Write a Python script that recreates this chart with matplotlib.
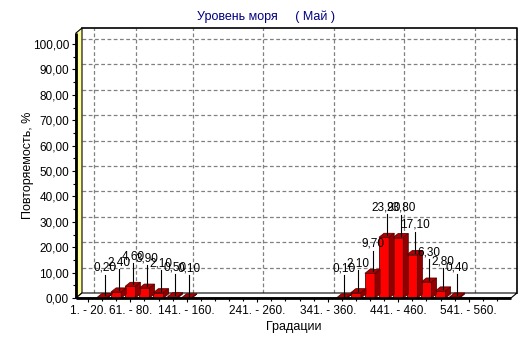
import numpy as np
import matplotlib
matplotlib.use("Agg")
import matplotlib.pyplot as plt
from matplotlib.patches import Polygon

plt.rcParams['font.family'] = ['Liberation Sans', 'DejaVu Sans']
plt.rcParams['font.size'] = 8.5

# gradations of 20 units: 1.-20., 21.-40., ... 581.-600.
categories = [f"{20*i+1}. - {20*i+20}." for i in range(30)]
values = [0, 0.20, 2.40, 4.60, 3.90, 2.10, 0.50, 0.10,
          0, 0, 0, 0, 0, 0, 0, 0, 0, 0,
          0.10, 2.10, 9.70, 23.90, 23.80, 17.10, 6.30, 2.80, 0.40,
          0, 0, 0]
tick_idx = [0, 3, 7, 12, 17, 22, 27]
title = "Уровень моря     ( Май )"

W, H = 532, 343
fig = plt.figure(figsize=(W/100, H/100), dpi=100)
# front plane of the 3d box, pixel coords
L, R, B, T = 76, 511, 298, 33
ax = fig.add_axes([L/W, 1-B/H, (R-L)/W, (B-T)/H])

px_x = 14.1   # pixels per category
px_y = 2.54   # pixels per percent
x0 = -(88-L)/px_x
x1 = x0 + (R-L)/px_x
y1 = (B-T)/px_y
ax.set_xlim(x0, x1)
ax.set_ylim(0, y1)
for s in ax.spines.values():
    s.set_visible(False)

# depth offsets (data units)
wdx, wdy = 6/px_x, 5/px_y
bdx, bdy = 5/px_x, 4/px_y

# back wall + grid
ax.add_patch(Polygon([(x0+wdx, wdy), (x1+wdx, wdy), (x1+wdx, y1+wdy), (x0+wdx, y1+wdy)],
                     closed=True, fc='white', ec='none', clip_on=False, zorder=0))
for yv in range(10, 101, 10):
    ax.plot([x0+wdx, x1+wdx], [yv+wdy, yv+wdy], color='#808080', lw=0.9,
            ls=(0, (3, 2)), clip_on=False, zorder=1)
for i in tick_idx:
    ax.plot([i+wdx, i+wdx], [wdy, y1+wdy], color='#808080', lw=0.9,
            ls=(0, (3, 2)), clip_on=False, zorder=1)

# left wall (yellow)
ax.add_patch(Polygon([(x0, 0), (x0+wdx, wdy), (x0+wdx, y1+wdy), (x0, y1)],
                     closed=True, fc='#ffff99', ec='black', lw=0.8, clip_on=False, zorder=2))
# floor
ax.add_patch(Polygon([(x0, 0), (x1, 0), (x1+wdx, wdy), (x0+wdx, wdy)],
                     closed=True, fc='white', ec='black', lw=0.8, clip_on=False, zorder=2))
# back frame lines
ax.plot([x0+wdx, x1+wdx, x1+wdx], [y1+wdy, y1+wdy, wdy], color='black', lw=1.2,
        clip_on=False, zorder=2)
# front axis lines (thick)
ax.plot([x0, x0], [0, y1], color='black', lw=2, clip_on=False, zorder=6, solid_capstyle='butt')
ax.plot([x0, x1], [0, 0], color='black', lw=2, clip_on=False, zorder=6, solid_capstyle='butt')

# 3d bars
hw = 0.36
idx = np.arange(len(values))
ax.bar(idx, values, width=2*hw, color='#ff0000', edgecolor='#600000', lw=0.6, zorder=4)
for i, v in zip(idx, values):
    if v <= 0:
        continue
    top = [(i-hw, v), (i+hw, v), (i+hw+bdx, v+bdy), (i-hw+bdx, v+bdy)]
    side = [(i+hw, 0), (i+hw+bdx, bdy), (i+hw+bdx, v+bdy), (i+hw, v)]
    ax.add_patch(Polygon(top, closed=True, fc='#b00000', ec='#600000', lw=0.6, zorder=4))
    ax.add_patch(Polygon(side, closed=True, fc='#900000', ec='#600000', lw=0.6, zorder=4))
    lx = i + bdx/2
    ax.plot([lx, lx], [v+bdy/2, v+9], color='black', lw=0.8, zorder=5)
    ax.text(lx, v+9.3, f"{v:.2f}".replace('.', ','), ha='center', va='bottom',
            fontsize=8.5, zorder=5)

# ticks
ax.set_yticks(np.arange(0, 101, 10))
ax.set_yticklabels([f"{t:.2f}".replace('.', ',') for t in np.arange(0, 101, 10)])
ax.set_yticks(np.arange(0, 101, 5), minor=True)
ax.set_xticks(tick_idx)
ax.set_xticklabels([categories[i] for i in tick_idx])
ax.set_xticks(idx, minor=True)
ax.tick_params(axis='both', which='major', length=3, width=0.8, pad=2)
ax.tick_params(axis='both', which='minor', length=2, width=0.8)

ax.set_ylabel("Повторяемость, %", fontsize=9)
ax.yaxis.set_label_coords((34-L)/(R-L), 0.5)
ax.set_xlabel("Градации", fontsize=9, labelpad=3)
fig.text(266/W, 1-17/H, title, color='#000080', ha='center', va='center', fontsize=9)

fig.savefig("out.png", dpi=100)
